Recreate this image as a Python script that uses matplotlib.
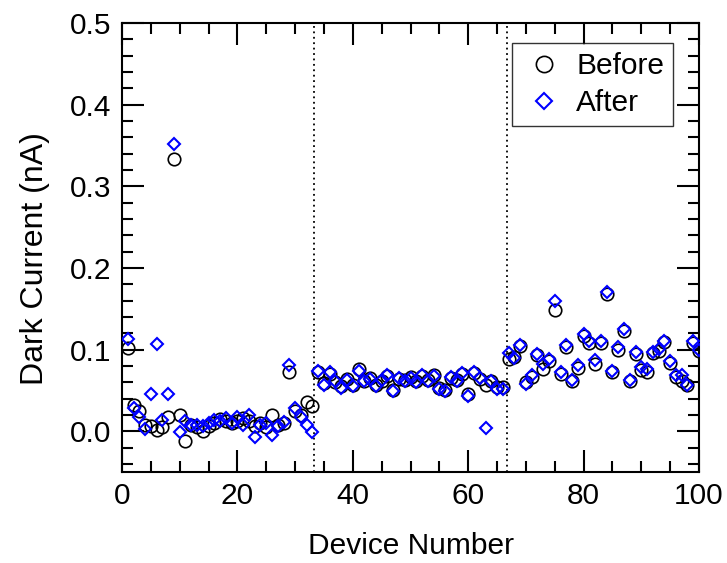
import matplotlib
matplotlib.use("Agg")
import matplotlib.pyplot as plt
import numpy as np
from matplotlib.ticker import MultipleLocator

plt.rcParams['font.family'] = ['Liberation Sans', 'DejaVu Sans']

# device numbers 1..100
device = np.arange(1, 101)

before = [
    0.102, 0.032, 0.025, 0.008, 0.006, 0.002, 0.005, 0.018, 0.333, 0.020,
    -0.012, 0.008, 0.005, 0.000, 0.006, 0.010, 0.015, 0.012, 0.010, 0.012,
    0.016, 0.012, 0.006, 0.010, 0.005, 0.020, 0.008, 0.010, 0.073, 0.025,
    0.020, 0.036, 0.031,
    0.072, 0.059, 0.070, 0.060, 0.055, 0.064, 0.057, 0.076, 0.061, 0.065,
    0.056, 0.062, 0.068, 0.051, 0.064, 0.063, 0.066, 0.061, 0.068, 0.063,
    0.069, 0.053, 0.050, 0.065, 0.063, 0.070, 0.045, 0.071, 0.064, 0.057,
    0.061, 0.054, 0.054,
    0.088, 0.091, 0.104, 0.060, 0.066, 0.093, 0.076, 0.086, 0.148, 0.070,
    0.103, 0.061, 0.078, 0.117, 0.108, 0.082, 0.108, 0.168, 0.072, 0.100,
    0.123, 0.061, 0.095, 0.075, 0.073, 0.096, 0.098, 0.109, 0.084, 0.066,
    0.061, 0.056, 0.108, 0.098,
]

after = [
    0.113, 0.028, 0.018, 0.003, 0.045, 0.107, 0.014, 0.045, 0.352, -0.001,
    0.012, 0.008, 0.008, 0.006, 0.010, 0.014, 0.012, 0.016, 0.010, 0.018,
    0.008, 0.020, -0.007, 0.008, 0.010, -0.005, 0.006, 0.011, 0.081, 0.028,
    0.018, 0.007, -0.001,
    0.074, 0.057, 0.072, 0.061, 0.053, 0.063, 0.055, 0.074, 0.062, 0.064,
    0.055, 0.063, 0.069, 0.049, 0.065, 0.062, 0.065, 0.060, 0.069, 0.062,
    0.068, 0.052, 0.049, 0.066, 0.062, 0.071, 0.043, 0.072, 0.065, 0.004,
    0.062, 0.052, 0.052,
    0.096, 0.090, 0.106, 0.058, 0.069, 0.095, 0.082, 0.088, 0.159, 0.072,
    0.105, 0.063, 0.081, 0.119, 0.111, 0.087, 0.110, 0.170, 0.074, 0.103,
    0.125, 0.063, 0.097, 0.079, 0.076, 0.097, 0.101, 0.111, 0.086, 0.069,
    0.069, 0.057, 0.110, 0.100,
]

dividers = [100 / 3, 200 / 3]

fig = plt.figure(figsize=(7.27, 5.63), dpi=100)
ax = fig.add_axes([0.1678, 0.1616, 0.7937, 0.7975])

for d in dividers:
    ax.axvline(d, color='black', linestyle=(0, (1, 2)), linewidth=1.3, zorder=1)

ax.plot(device, before, linestyle='none', marker='o', markersize=9,
        markerfacecolor='none', markeredgecolor='black', markeredgewidth=1.2,
        label='Before', zorder=2)
ax.plot(device, after, linestyle='none', marker='D', markersize=6.5,
        markerfacecolor='none', markeredgecolor='#0000ff', markeredgewidth=1.5,
        label='After', zorder=3)

ax.set_xlim(0, 100)
ax.set_ylim(-0.05, 0.5)
ax.xaxis.set_major_locator(MultipleLocator(20))
ax.xaxis.set_minor_locator(MultipleLocator(5))
ax.yaxis.set_major_locator(MultipleLocator(0.1))
ax.yaxis.set_minor_locator(MultipleLocator(0.02))
ax.yaxis.set_major_formatter(matplotlib.ticker.FormatStrFormatter('%.1f'))

ax.tick_params(which='both', direction='in', top=True, right=True, width=1.5,
               labelsize=21.5)
ax.tick_params(axis='x', pad=7)
ax.tick_params(axis='y', pad=8)
ax.tick_params(which='major', length=15.5)
ax.tick_params(which='minor', length=8)
for s in ax.spines.values():
    s.set_linewidth(1.5)

ax.set_xlabel('Device Number', fontsize=21.5, labelpad=16)
ax.set_ylabel('Dark Current (nA)', fontsize=23)
ax.yaxis.set_label_coords(-0.124, 0.475)

leg = ax.legend(loc='upper right', fontsize=21.5, frameon=True, fancybox=False,
                edgecolor='black', borderpad=0.3, handletextpad=0.33,
                labelspacing=0.3, handlelength=1.5, markerscale=1.3,
                borderaxespad=0, bbox_to_anchor=(0.955, 0.955))
leg.get_frame().set_linewidth(1.0)

fig.savefig('out.png', dpi=100)
